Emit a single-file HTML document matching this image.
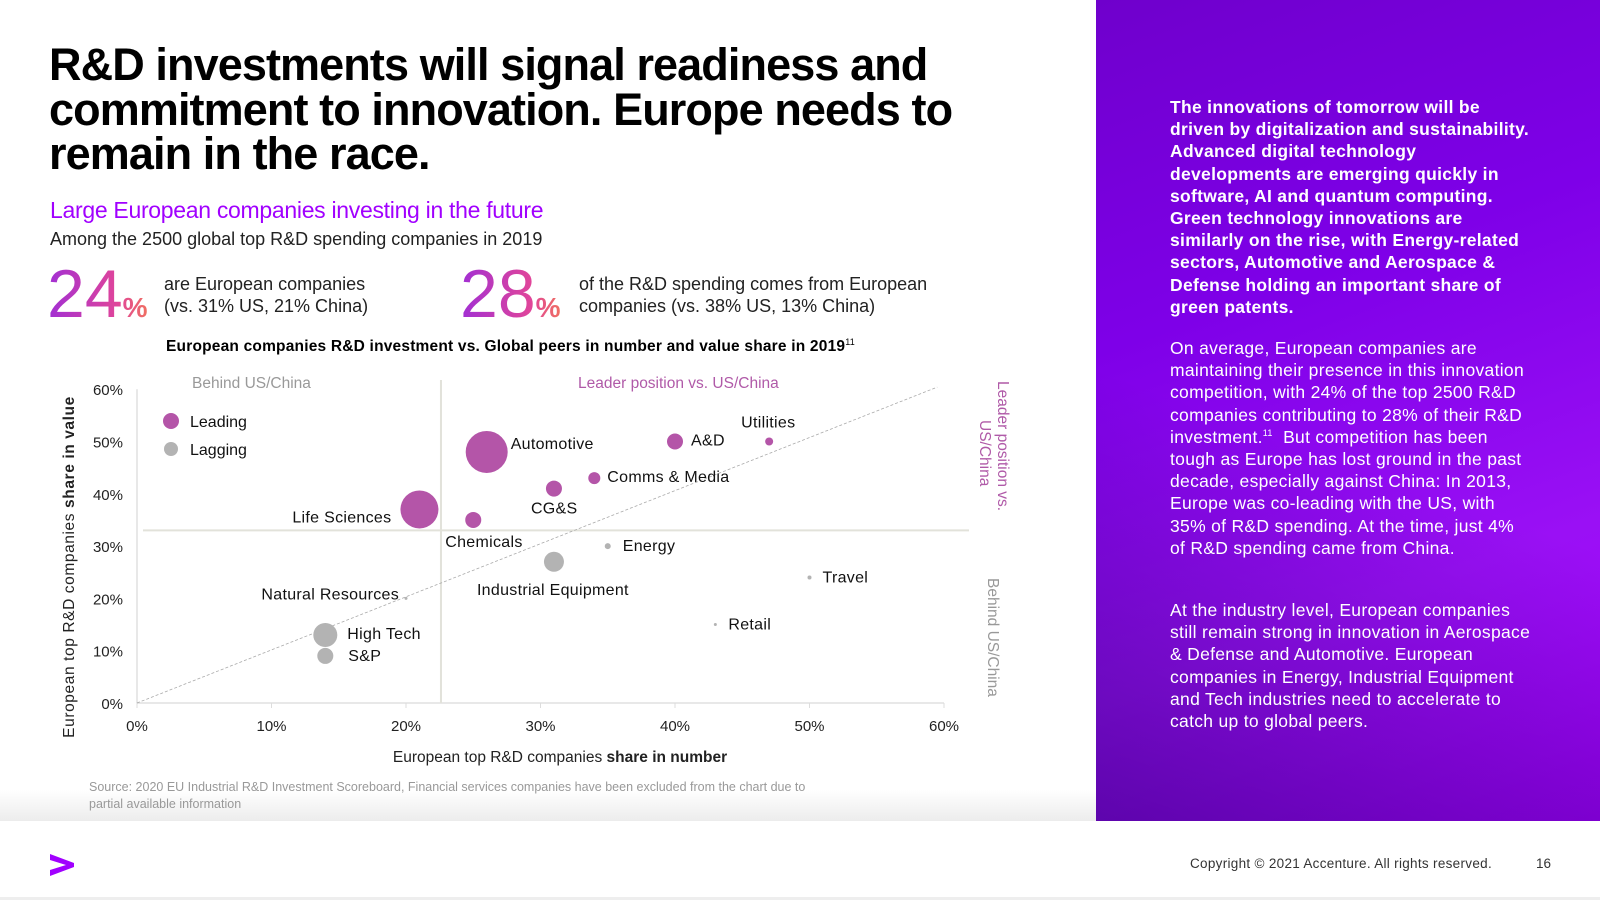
<!DOCTYPE html>
<html><head><meta charset="utf-8"><style>
*{margin:0;padding:0;box-sizing:border-box}
body{width:1600px;height:900px;position:relative;background:#fff;font-family:"Liberation Sans",sans-serif;overflow:hidden;color:#000}
.abs{position:absolute;white-space:nowrap}
.title{left:49px;top:43px;font-size:45px;font-weight:bold;line-height:44.5px;letter-spacing:-0.9px}
.sub{left:50px;top:197px;font-size:23px;color:#a100ff;letter-spacing:-0.3px}
.among{left:50px;top:229px;font-size:18px;color:#222}
.big{font-size:68px;line-height:64px;background:linear-gradient(90deg,#a12fd4,#e0459a 70%,#f07060);-webkit-background-clip:text;background-clip:text;color:transparent;letter-spacing:0}
.big span{font-size:28px;font-weight:bold;letter-spacing:0}
.stat{font-size:18px;line-height:21.5px;color:#222}
.panel{left:1096px;top:0;width:504px;height:821px;background:linear-gradient(160deg,#6f00cc 0%,#7e00e8 35%,#9a10f5 70%,#a600ff 100%)}
.panel:after{content:"";position:absolute;left:0;top:0;width:100%;height:100%;background:linear-gradient(200deg,rgba(0,0,0,0) 55%,rgba(40,0,110,0.55) 100%)}
.ptext{position:absolute;left:74px;width:362px;color:#fff;font-size:17.5px;line-height:22.2px;z-index:2;white-space:normal;letter-spacing:0.3px}
sup{line-height:0;vertical-align:super}
</style></head><body>
<div class="abs title">R&amp;D investments will signal readiness and<br>commitment to innovation. Europe needs to<br>remain in the race.</div>
<div class="abs sub">Large European companies investing in the future</div>
<div class="abs among">Among the 2500 global top R&amp;D spending companies in 2019</div>
<div class="abs big" style="left:47px;top:262px">24<span>%</span></div>
<div class="abs stat" style="left:164px;top:274px">are European companies<br>(vs. 31% US, 21% China)</div>
<div class="abs big" style="left:460px;top:262px">28<span>%</span></div>
<div class="abs stat" style="left:579px;top:274px">of the R&amp;D spending comes from European<br>companies (vs. 38% US, 13% China)</div>
<div class="abs" style="left:166px;top:338px;font-size:15.5px;font-weight:bold;letter-spacing:0.2px">European companies R&amp;D investment vs. Global peers in number and value share in 2019<sup style="font-size:9px;font-weight:normal">11</sup></div>

<svg class="abs" style="left:0;top:0" width="1096" height="821" id="chart">
<defs><linearGradient id="fade" x1="0" y1="0" x2="0" y2="1"><stop offset="0" stop-color="#fff"/><stop offset="1" stop-color="#ececec"/></linearGradient></defs>
<rect x="0" y="790" width="1096" height="31" fill="url(#fade)"/>
</svg>

<div class="abs" style="left:89px;top:779px;font-size:12.5px;line-height:16.5px;color:#999">Source: 2020 EU Industrial R&amp;D Investment Scoreboard, Financial services companies have been excluded from the chart due to<br>partial available information</div>

<div class="abs panel">
<div class="ptext" style="top:96px;font-weight:bold">The innovations of tomorrow will be driven by digitalization and sustainability. Advanced digital technology developments are emerging quickly in software, AI and quantum computing. Green technology innovations are similarly on the rise, with Energy-related sectors, Automotive and Aerospace &amp; Defense holding an important share of green patents.</div>
<div class="ptext" style="top:337px">On average, European companies are maintaining their presence in this innovation competition, with 24% of the top 2500 R&amp;D companies contributing to 28% of their R&amp;D investment.<sup style="font-size:9px">11</sup>&nbsp; But competition has been tough as Europe has lost ground in the past decade, especially against China: In 2013, Europe was co-leading with the US, with 35% of R&amp;D spending. At the time, just 4% of R&amp;D spending came from China.</div>
<div class="ptext" style="top:599px">At the industry level, European companies still remain strong in innovation in Aerospace &amp; Defense and Automotive. European companies in Energy, Industrial Equipment and Tech industries need to accelerate to catch up to global peers.</div>
</div>

<svg class="abs" style="left:48px;top:852px" width="28" height="26"><polygon points="2,2 26,11 26,15 2,24 2,18 18,13 2,8" fill="#a100ff"/></svg>
<div class="abs" style="left:1190px;top:856px;font-size:13.5px;color:#333;letter-spacing:0.3px">Copyright © 2021 Accenture. All rights reserved.</div>
<div class="abs" style="left:1536px;top:856px;font-size:13.5px;color:#333">16</div>
<div class="abs" style="left:0;top:897px;width:1600px;height:3px;background:#eee"></div>

<script>
const names=["Life Sciences","Automotive","Chemicals","CG&S","Comms & Media","A&D","Utilities","Energy","Industrial Equipment","Natural Resources","Travel","Retail","High Tech","S&P"];
const shareNumber=[21,26,25,31,34,40,47,35,31,20,50,43,14,14];
const shareValue=[37,48,35,41,43,50,50,30,27,20,24,15,13,9];
const bubbleSize=[19,21,8,8,6,8,4,3,10,1.5,2,1.5,12,8];
const leading=[1,1,1,1,1,1,1,0,0,0,0,0,0,0];
const xTicks=[0,10,20,30,40,50,60];
const yTicks=[0,10,20,30,40,50,60];
const quadX=22.6, quadY=33;
// label offsets [dx,dy,anchor]
const labelPos=[[-28,13,"end"],[24,-3,"start"],[-28,27,"start"],[-23,25,"start"],[13,4,"start"],[16,4,"start"],[-28,-14,"start"],[15,5,"start"],[-77,33,"start"],[-7,1,"end"],[13,5,"start"],[13,5,"start"],[22,4,"start"],[23,5,"start"]];
const svg=document.getElementById('chart');
const NS="http://www.w3.org/2000/svg";
const X=v=>137+v*13.45, Y=v=>703-v*5.23;
function mk(t,a,txt){const e=document.createElementNS(NS,t);for(const k in a)e.setAttribute(k,a[k]);if(txt!==undefined)e.textContent=txt;svg.appendChild(e);return e;}
const F='"Liberation Sans",sans-serif';
let e;
e=mk('line',{x1:X(0),y1:Y(60),x2:X(0),y2:Y(0),stroke:'#e0e0e0','stroke-width':1.5});

e=mk('line',{x1:X(0),y1:Y(0),x2:X(60),y2:Y(0),stroke:'#e0e0e0','stroke-width':1.5});

xTicks.forEach(t=>{
 e=mk('line',{x1:X(t),y1:Y(0),x2:X(t),y2:Y(0)+5,stroke:'#ddd'});
 
 e=mk('text',{x:X(t),y:Y(0)+28,'text-anchor':'middle','font-size':15,'font-family':F,fill:'#222'},t+'%');
 
});
yTicks.forEach(t=>{
 e=mk('text',{x:123,y:Y(t)+6,'text-anchor':'end','font-size':15,'font-family':F,fill:'#222'},t+'%');
 
});
e=mk('line',{x1:X(quadX),y1:380,x2:X(quadX),y2:Y(0),stroke:'#e2e2da','stroke-width':2});

e=mk('line',{x1:143,y1:Y(quadY),x2:969,y2:Y(quadY),stroke:'#e2e2da','stroke-width':2});

e=mk('line',{x1:X(0),y1:Y(0),x2:X(59.5),y2:Y(60.4),stroke:'#aaa','stroke-width':0.8,'stroke-dasharray':'3,2'});

names.forEach((n,i)=>{
 e=mk('circle',{cx:X(shareNumber[i]),cy:Y(shareValue[i]),r:bubbleSize[i],fill:leading[i]?'#b455a8':'#b3b3b3'});
 
 
 const p=labelPos[i];
 e=mk('text',{x:X(shareNumber[i])+p[0],y:Y(shareValue[i])+p[1],'text-anchor':p[2],'font-size':16,'font-family':F,fill:'#111','letter-spacing':0.3},n);
 
 
});
e=mk('circle',{cx:171,cy:421,r:8,fill:'#b455a8'});

e=mk('text',{x:190,y:427,'font-size':16,'font-family':F,fill:'#111'},'Leading');

e=mk('circle',{cx:171,cy:449,r:7,fill:'#b3b3b3'});

e=mk('text',{x:190,y:455,'font-size':16,'font-family':F,fill:'#111'},'Lagging');

e=mk('text',{x:192,y:388,'font-size':15.5,'font-family':F,fill:'#999'},'Behind US/China');

e=mk('text',{x:578,y:388,'font-size':15.5,'font-family':F,fill:'#b05aa8'},'Leader position vs. US/China');

e=mk('text',{x:0,y:0,'font-size':15.5,'font-family':F,fill:'#222','text-anchor':'middle','letter-spacing':0.6,transform:'translate(74,567) rotate(-90)'});
e.innerHTML='European top R&amp;D companies <tspan font-weight="bold">share in value</tspan>';

e=mk('text',{x:560,y:762,'font-size':15.5,'font-family':F,fill:'#222','text-anchor':'middle'});
e.innerHTML='European top R&amp;D companies <tspan font-weight="bold">share in number</tspan>';

e=mk('text',{x:0,y:0,'font-size':15.5,'font-family':F,fill:'#b05aa8',transform:'translate(998,381) rotate(90)'},'Leader position vs.');

e=mk('text',{x:0,y:0,'font-size':15.5,'font-family':F,fill:'#b05aa8',transform:'translate(980,420) rotate(90)'},'US/China');

e=mk('text',{x:0,y:0,'font-size':15.5,'font-family':F,fill:'#999',transform:'translate(988,578) rotate(90)'},'Behind US/China');

</script>
</body></html>
